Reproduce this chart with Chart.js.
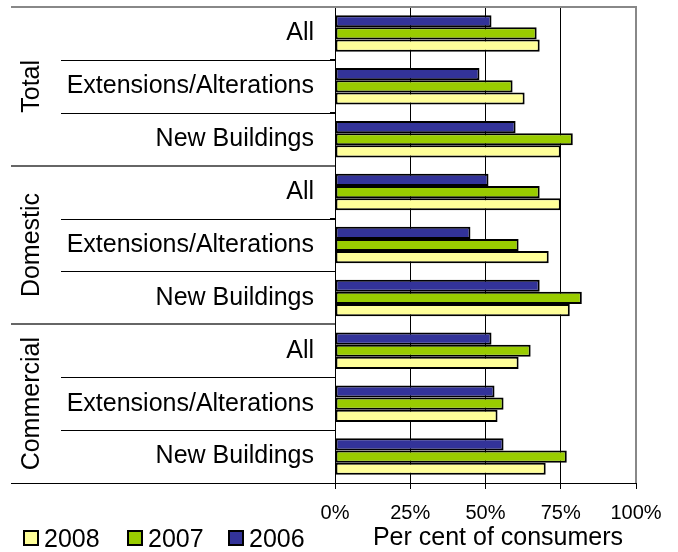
<!DOCTYPE html>
<html>
<head>
<meta charset="utf-8">
<script src="https://cdn.jsdelivr.net/npm/chart.js@4/dist/chart.umd.min.js"></script>
<style>
  html, body { margin: 0; padding: 0; background: #fff; }
  #wrap { width: 678px; height: 552px; }
</style>
</head>
<body>
<div id="wrap"><canvas id="chart" width="678" height="552"></canvas></div>
<script>
// categories, top to bottom
var categories = ['All', 'Extensions/Alterations', 'New Buildings',
                  'All', 'Extensions/Alterations', 'New Buildings',
                  'All', 'Extensions/Alterations', 'New Buildings'];
var groups = ['Total', 'Domestic', 'Commercial'];

// per cent of consumers
var values2006 = [52, 48, 60, 51, 45, 68, 52, 53, 56];
var values2007 = [67, 59, 79, 68, 61, 82, 65, 56, 77];
var values2008 = [68, 63, 75, 75, 71, 78, 61, 54, 70];

var xTicks = [0, 25, 50, 75, 100];
var xTitle = 'Per cent of consumers';

var FONT = '"Liberation Sans", Arial, sans-serif';

// left group labels, separators, plot frame, legend and axis title
var extras = {
	id: 'extras',
	afterDraw: function(chart) {
		var ctx = chart.ctx;
		var area = chart.chartArea;
		var n = categories.length;
		var step = (area.bottom - area.top) / n;

		ctx.save();

		// inner separators
		ctx.strokeStyle = '#000';
		ctx.lineWidth = 1;
		for (var i = 1; i < n; i++) {
			if (i % 3 === 0) continue;
			var yy = Math.round(area.top + i * step) + 0.5;
			ctx.beginPath();
			ctx.moveTo(61, yy);
			ctx.lineTo(area.left, yy);
			ctx.stroke();
		}
		// group separators
		ctx.strokeStyle = '#666';
		ctx.lineWidth = 2;
		[3, 6].forEach(function(i){
			var yy = Math.round(area.top + i * step);
			ctx.beginPath();
			ctx.moveTo(11, yy);
			ctx.lineTo(area.left, yy);
			ctx.stroke();
		});
		// bottom line
		ctx.strokeStyle = '#000';
		ctx.lineWidth = 1;
		ctx.beginPath();
		ctx.moveTo(11, Math.round(area.bottom) + 0.5);
		ctx.lineTo(area.left, Math.round(area.bottom) + 0.5);
		ctx.stroke();

		// top and right frame (gray)
		ctx.strokeStyle = '#888';
		ctx.lineWidth = 2;
		ctx.beginPath();
		ctx.moveTo(11, area.top);
		ctx.lineTo(area.right, area.top);
		ctx.lineTo(area.right, area.bottom);
		ctx.stroke();

		// group labels, rotated
		ctx.fillStyle = '#000';
		ctx.font = '25px ' + FONT;
		ctx.textAlign = 'center';
		ctx.textBaseline = 'middle';
		groups.forEach(function(g, gi){
			var cy = area.top + (gi * 3 + 1.5) * step;
			ctx.save();
			ctx.translate(32, cy);
			ctx.rotate(-Math.PI / 2);
			ctx.fillText(g, 0, 0);
			ctx.restore();
		});

		// axis title
		ctx.font = '25px ' + FONT;
		ctx.textAlign = 'center';
		ctx.textBaseline = 'alphabetic';
		ctx.fillText(xTitle, 498, 545);

		// legend, reversed order
		var ds = chart.data.datasets.slice().reverse();
		var lx = [23, 127, 228];
		ctx.textAlign = 'left';
		ds.forEach(function(d, i){
			ctx.fillStyle = d.backgroundColor;
			ctx.fillRect(lx[i], 530, 16, 16);
			ctx.strokeStyle = '#000';
			ctx.lineWidth = 2;
			ctx.strokeRect(lx[i] + 1, 531, 14, 14);
			ctx.fillStyle = '#000';
			ctx.fillText(d.label, lx[i] + 21, 547);
		});

		ctx.restore();
	}
};

new Chart(document.getElementById('chart'), {
	type: 'bar',
	data: {
		labels: categories,
		datasets: [
			{label: '2006', data: values2006, backgroundColor: '#333399'},
			{label: '2007', data: values2007, backgroundColor: '#99cc00'},
			{label: '2008', data: values2008, backgroundColor: '#ffff99'}
		]
	},
	options: {
		indexAxis: 'y',
		responsive: false,
		animation: false,
		layout: {padding: {top: 7, right: 42, bottom: 0, left: 0}},
		datasets: {
			bar: {
				borderColor: '#000',
				borderWidth: 2,
				borderSkipped: false,
				barPercentage: 1,
				categoryPercentage: 0.69
			}
		},
		plugins: {
			legend: {display: false},
			tooltip: {enabled: false}
		},
		scales: {
			x: {
				min: 0,
				max: 100,
				afterFit: function(scale){
					scale.height = 69;
					scale.paddingLeft = 0;
					scale.paddingRight = 0;
				},
				afterBuildTicks: function(scale){
					scale.ticks = xTicks.map(function(v){ return {value: v}; });
				},
				ticks: {
					callback: function(v){ return v + '%'; },
					color: '#000',
					font: {family: FONT, size: 20},
					padding: 12,
					maxRotation: 0
				},
				grid: {
					color: function(c){ return c.tick && c.tick.value === 100 ? 'rgba(0,0,0,0)' : '#000'; },
					tickColor: '#000',
					tickLength: 6,
					lineWidth: 1
				},
				border: {color: '#000', width: 1}
			},
			y: {
				afterFit: function(scale){
					scale.width = 335;
					scale.paddingTop = 0;
					scale.paddingBottom = 0;
				},
				ticks: {
					color: '#000',
					font: {family: FONT, size: 25},
					padding: 16
				},
				grid: {
					drawOnChartArea: false,
					offset: true,
					tickColor: '#000',
					tickLength: 5
				},
				border: {color: '#000', width: 1}
			}
		}
	},
	plugins: [extras]
});
</script>
</body>
</html>
